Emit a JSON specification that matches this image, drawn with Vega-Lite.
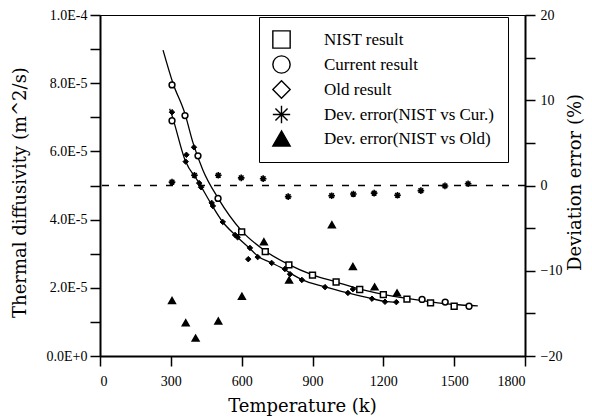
{
  "$schema": "https://vega.github.io/schema/vega-lite/v6.json",
  "autosize": "none",
  "width": 425,
  "height": 341,
  "padding": {"left": 100, "top": 15, "right": 67, "bottom": 63},
  "background": "white",
  "config": {
    "font": "Liberation Serif",
    "view": {"stroke": "black", "strokeWidth": 1},
    "axis": {
      "grid": false,
      "domainColor": "black",
      "domainWidth": 2,
      "tickColor": "black",
      "tickWidth": 1.5,
      "tickSize": 10,
      "labelFont": "Liberation Serif",
      "labelFontSize": 14,
      "labelColor": "black",
      "titleFont": "DejaVu Serif",
      "titleFontSize": 18,
      "titleFontWeight": "normal",
      "titleColor": "black"
    },
    "legend": {
      "orient": "none",
      "legendX": 159,
      "legendY": 2,
      "padding": 13,
      "strokeColor": "black",
      "fillColor": "white",
      "labelFont": "Liberation Serif",
      "labelFontSize": 17,
      "labelColor": "black",
      "labelOffset": 33,
      "labelLimit": 300,
      "rowPadding": 2,
      "symbolSize": 300,
      "symbolStrokeWidth": 1.4,
      "symbolOpacity": 1
    }
  },
  "datasets": {
    "curves": [
      {"curve": "upper", "T": 267, "v": 8.97e-5},
      {"curve": "upper", "T": 309, "v": 8.0e-5},
      {"curve": "upper", "T": 360, "v": 7.1e-5},
      {"curve": "upper", "T": 394, "v": 6.25e-5},
      {"curve": "upper", "T": 436, "v": 5.45e-5},
      {"curve": "upper", "T": 500, "v": 4.63e-5},
      {"curve": "upper", "T": 600, "v": 3.67e-5},
      {"curve": "upper", "T": 700, "v": 3.08e-5},
      {"curve": "upper", "T": 800, "v": 2.68e-5},
      {"curve": "upper", "T": 900, "v": 2.38e-5},
      {"curve": "upper", "T": 1000, "v": 2.17e-5},
      {"curve": "upper", "T": 1100, "v": 1.96e-5},
      {"curve": "upper", "T": 1200, "v": 1.81e-5},
      {"curve": "upper", "T": 1300, "v": 1.69e-5},
      {"curve": "upper", "T": 1400, "v": 1.59e-5},
      {"curve": "upper", "T": 1500, "v": 1.51e-5},
      {"curve": "upper", "T": 1600, "v": 1.47e-5},
      {"curve": "lower", "T": 295, "v": 7.25e-5},
      {"curve": "lower", "T": 305, "v": 7.05e-5},
      {"curve": "lower", "T": 360, "v": 5.75e-5},
      {"curve": "lower", "T": 420, "v": 5.07e-5},
      {"curve": "lower", "T": 470, "v": 4.47e-5},
      {"curve": "lower", "T": 520, "v": 3.93e-5},
      {"curve": "lower", "T": 572, "v": 3.55e-5},
      {"curve": "lower", "T": 632, "v": 3.17e-5},
      {"curve": "lower", "T": 670, "v": 2.92e-5},
      {"curve": "lower", "T": 727, "v": 2.73e-5},
      {"curve": "lower", "T": 783, "v": 2.53e-5},
      {"curve": "lower", "T": 818, "v": 2.38e-5},
      {"curve": "lower", "T": 855, "v": 2.24e-5},
      {"curve": "lower", "T": 953, "v": 2.03e-5},
      {"curve": "lower", "T": 1050, "v": 1.85e-5},
      {"curve": "lower", "T": 1152, "v": 1.68e-5},
      {"curve": "lower", "T": 1207, "v": 1.6e-5},
      {"curve": "lower", "T": 1260, "v": 1.57e-5}
    ],
    "left": [
      {"series": "NIST result", "T": 600, "v": 3.64e-5},
      {"series": "NIST result", "T": 700, "v": 3.06e-5},
      {"series": "NIST result", "T": 800, "v": 2.67e-5},
      {"series": "NIST result", "T": 900, "v": 2.37e-5},
      {"series": "NIST result", "T": 1000, "v": 2.17e-5},
      {"series": "NIST result", "T": 1100, "v": 1.95e-5},
      {"series": "NIST result", "T": 1200, "v": 1.8e-5},
      {"series": "NIST result", "T": 1300, "v": 1.67e-5},
      {"series": "NIST result", "T": 1400, "v": 1.56e-5},
      {"series": "NIST result", "T": 1500, "v": 1.46e-5},
      {"series": "Current result", "T": 305, "v": 7.95e-5},
      {"series": "Current result", "T": 360, "v": 7.05e-5},
      {"series": "Current result", "T": 415, "v": 5.87e-5},
      {"series": "Current result", "T": 500, "v": 4.62e-5},
      {"series": "Current result", "T": 305, "v": 6.9e-5},
      {"series": "Current result", "T": 1364, "v": 1.66e-5},
      {"series": "Current result", "T": 1462, "v": 1.58e-5},
      {"series": "Current result", "T": 1563, "v": 1.46e-5},
      {"series": "Old result", "T": 305, "v": 7.15e-5},
      {"series": "Old result", "T": 363, "v": 5.7e-5},
      {"series": "Old result", "T": 366, "v": 5.9e-5},
      {"series": "Old result", "T": 398, "v": 6.12e-5},
      {"series": "Old result", "T": 420, "v": 5.07e-5},
      {"series": "Old result", "T": 428, "v": 4.95e-5},
      {"series": "Old result", "T": 473, "v": 4.49e-5},
      {"series": "Old result", "T": 478, "v": 4.4e-5},
      {"series": "Old result", "T": 520, "v": 3.93e-5},
      {"series": "Old result", "T": 572, "v": 3.55e-5},
      {"series": "Old result", "T": 583, "v": 3.48e-5},
      {"series": "Old result", "T": 628, "v": 2.84e-5},
      {"series": "Old result", "T": 635, "v": 3.17e-5},
      {"series": "Old result", "T": 668, "v": 2.9e-5},
      {"series": "Old result", "T": 727, "v": 2.73e-5},
      {"series": "Old result", "T": 783, "v": 2.55e-5},
      {"series": "Old result", "T": 805, "v": 2.4e-5},
      {"series": "Old result", "T": 855, "v": 2.23e-5},
      {"series": "Old result", "T": 953, "v": 2.02e-5},
      {"series": "Old result", "T": 1050, "v": 1.85e-5},
      {"series": "Old result", "T": 1071, "v": 1.96e-5},
      {"series": "Old result", "T": 1152, "v": 1.68e-5},
      {"series": "Old result", "T": 1207, "v": 1.59e-5},
      {"series": "Old result", "T": 1255, "v": 1.58e-5}
    ],
    "right": [
      {"series": "Dev. error(NIST vs Cur.)", "T": 305, "dev": 0.4},
      {"series": "Dev. error(NIST vs Cur.)", "T": 400, "dev": 1.2},
      {"series": "Dev. error(NIST vs Cur.)", "T": 501, "dev": 1.2},
      {"series": "Dev. error(NIST vs Cur.)", "T": 598, "dev": 0.9},
      {"series": "Dev. error(NIST vs Cur.)", "T": 691, "dev": 0.8},
      {"series": "Dev. error(NIST vs Cur.)", "T": 797, "dev": -1.3},
      {"series": "Dev. error(NIST vs Cur.)", "T": 981, "dev": -1.2},
      {"series": "Dev. error(NIST vs Cur.)", "T": 1073, "dev": -1.0},
      {"series": "Dev. error(NIST vs Cur.)", "T": 1161, "dev": -0.9},
      {"series": "Dev. error(NIST vs Cur.)", "T": 1260, "dev": -1.15},
      {"series": "Dev. error(NIST vs Cur.)", "T": 1359, "dev": -0.6},
      {"series": "Dev. error(NIST vs Cur.)", "T": 1461, "dev": -0.05},
      {"series": "Dev. error(NIST vs Cur.)", "T": 1559, "dev": 0.2},
      {"series": "Dev. error(NIST vs Old)", "T": 305, "dev": -13.5},
      {"series": "Dev. error(NIST vs Old)", "T": 363, "dev": -16.1},
      {"series": "Dev. error(NIST vs Old)", "T": 405, "dev": -17.9},
      {"series": "Dev. error(NIST vs Old)", "T": 501, "dev": -15.9},
      {"series": "Dev. error(NIST vs Old)", "T": 601, "dev": -13.0},
      {"series": "Dev. error(NIST vs Old)", "T": 694, "dev": -6.6},
      {"series": "Dev. error(NIST vs Old)", "T": 801, "dev": -11.1},
      {"series": "Dev. error(NIST vs Old)", "T": 982, "dev": -4.6},
      {"series": "Dev. error(NIST vs Old)", "T": 1071, "dev": -9.5},
      {"series": "Dev. error(NIST vs Old)", "T": 1163, "dev": -11.9},
      {"series": "Dev. error(NIST vs Old)", "T": 1258, "dev": -12.6}
    ]
  },
  "layer": [
    {
      "layer": [
        {
          "data": {"name": "curves"},
          "mark": {"type": "line", "color": "black", "strokeWidth": 1.3, "interpolate": "monotone"},
          "encoding": {
            "x": {"field": "T", "type": "quantitative"},
            "y": {"field": "v", "type": "quantitative"},
            "detail": {"field": "curve"}
          }
        },
        {
          "data": {"name": "left"},
          "transform": [{"filter": "datum.series === 'Old result'"}],
          "mark": {"type": "point", "shape": "diamond", "filled": true, "size": 30, "color": "black", "stroke": "black", "strokeWidth": 1, "opacity": 1},
          "encoding": {
            "x": {"field": "T", "type": "quantitative"},
            "y": {"field": "v", "type": "quantitative"}
          }
        },
        {
          "data": {"name": "left"},
          "transform": [{"filter": "datum.series !== 'Old result'"}],
          "mark": {"type": "point", "filled": true, "size": 34, "strokeWidth": 1.5, "opacity": 1},
          "encoding": {
            "x": {"field": "T", "type": "quantitative"},
            "y": {"field": "v", "type": "quantitative"},
            "shape": {
              "field": "series", "type": "nominal",
              "scale": {
                "domain": ["NIST result", "Current result", "Old result", "Dev. error(NIST vs Cur.)", "Dev. error(NIST vs Old)"],
                "range": ["square", "circle", "diamond", "M-1,0L1,0M0,-1L0,1M-0.7,-0.7L0.7,0.7M-0.7,0.7L0.7,-0.7", "triangle-up"]
              },
              "legend": {"title": null}
            },
            "fill": {
              "field": "series", "type": "nominal",
              "scale": {
                "domain": ["NIST result", "Current result", "Old result", "Dev. error(NIST vs Cur.)", "Dev. error(NIST vs Old)"],
                "range": ["white", "white", "white", "black", "black"]
              },
              "legend": {"title": null}
            },
            "stroke": {
              "field": "series", "type": "nominal",
              "scale": {
                "domain": ["NIST result", "Current result", "Old result", "Dev. error(NIST vs Cur.)", "Dev. error(NIST vs Old)"],
                "range": ["black", "black", "black", "black", "black"]
              },
              "legend": {"title": null}
            }
          }
        }
      ],
      "encoding": {
        "x": {
          "field": "T", "type": "quantitative",
          "scale": {"domain": [0, 1800], "nice": false},
          "axis": {
            "title": "Temperature (k)",
            "values": [0, 150, 300, 450, 600, 750, 900, 1050, 1200, 1350, 1500, 1650, 1800],
            "labelExpr": "datum.value % 300 == 0 ? datum.label : ''",
            "format": "d",
            "labelPadding": 8,
            "titleX": 202,
            "titleY": 50,
            "titleAlign": "center",
            "titleBaseline": "middle"
          }
        },
        "y": {
          "field": "v", "type": "quantitative",
          "scale": {"domain": [0, 0.0001], "nice": false},
          "axis": {
            "title": "Thermal diffusivity (m^2/s)",
            "orient": "left",
            "values": [0, 0.00001, 0.00002, 0.00003, 0.00004, 0.00005, 0.00006, 0.00007, 0.00008, 0.00009, 0.0001],
            "labelExpr": "round(datum.value * 100000) % 2 == 0 ? upper(format(datum.value, '.1e')) : ''",
            "labelPadding": 3,
            "titleX": -80,
            "titleY": 177,
            "titleAngle": 270,
            "titleAlign": "center",
            "titleBaseline": "middle"
          }
        }
      }
    },
    {
      "layer": [
        {
          "data": {"values": [{}]},
          "mark": {"type": "rule", "color": "black", "strokeWidth": 1.3, "strokeDash": [7, 9]},
          "encoding": {
            "y": {"datum": 0, "type": "quantitative"}
          }
        },
        {
          "data": {"name": "right"},
          "mark": {"type": "point", "filled": true, "size": 44, "strokeWidth": 1.6, "opacity": 1},
          "encoding": {
            "x": {"field": "T", "type": "quantitative"},
            "y": {
              "field": "dev", "type": "quantitative",
              "scale": {"domain": [-20, 20], "nice": false},
              "axis": {
                "title": "Deviation error (%)",
                "orient": "right",
                "values": [-20, -15, -10, -5, 0, 5, 10, 15, 20],
                "labelExpr": "datum.value % 10 == 0 ? datum.label : ''",
                "labelPadding": 5,
                "titleX": 50,
                "titleY": 167,
                "titleAngle": 270,
                "titleAlign": "center",
                "titleBaseline": "middle"
              }
            },
            "shape": {
              "field": "series", "type": "nominal",
              "scale": {
                "domain": ["NIST result", "Current result", "Old result", "Dev. error(NIST vs Cur.)", "Dev. error(NIST vs Old)"],
                "range": ["square", "circle", "diamond", "M-1,0L1,0M0,-1L0,1M-0.7,-0.7L0.7,0.7M-0.7,0.7L0.7,-0.7", "triangle-up"]
              },
              "legend": {"title": null}
            },
            "fill": {
              "field": "series", "type": "nominal",
              "scale": {
                "domain": ["NIST result", "Current result", "Old result", "Dev. error(NIST vs Cur.)", "Dev. error(NIST vs Old)"],
                "range": ["white", "white", "white", "black", "black"]
              },
              "legend": {"title": null}
            },
            "stroke": {
              "field": "series", "type": "nominal",
              "scale": {
                "domain": ["NIST result", "Current result", "Old result", "Dev. error(NIST vs Cur.)", "Dev. error(NIST vs Old)"],
                "range": ["black", "black", "black", "black", "black"]
              },
              "legend": {"title": null}
            }
          }
        }
      ]
    }
  ],
  "resolve": {"scale": {"y": "independent"}}
}
